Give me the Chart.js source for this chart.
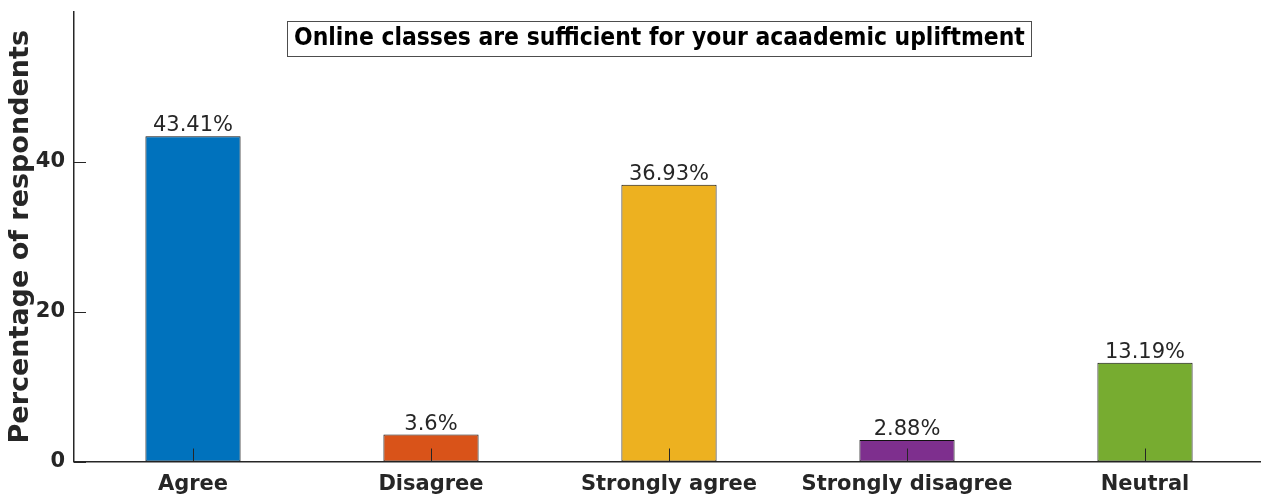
<!DOCTYPE html>
<html>
<head>
<meta charset="utf-8">
<script src="https://cdn.jsdelivr.net/npm/chart.js@4"></script>
<style>
    html, body { margin: 0; padding: 0; background: #fff; overflow: hidden; }
    #wrap { position: relative; width: 1264px; height: 499px; }
</style>
</head>
<body>
<div id="wrap"><canvas id="myChart"></canvas></div>
<script>
// answers and their share of respondents (%)
const categories = ['Agree', 'Disagree', 'Strongly agree', 'Strongly disagree', 'Neutral'];
const percentages = [43.41, 3.6, 36.93, 2.88, 13.19];
const valueLabels = ['43.41%', '3.6%', '36.93%', '2.88%', '13.19%'];
const yTicks = [0, 20, 40];
const chartTitle = 'Online classes are sufficient for your acaademic upliftment';

const barColors = ['#0072BD', '#D95319', '#EDB120', '#7E2F8E', '#77AC30'];
const axisColor = '#262626';

// matlab style ticks pointing into the plot
const innerTicks = {
    id: 'innerTicks',
    afterDatasetsDraw(chart) {
        const ctx = chart.ctx;
        const x = chart.scales.x, y = chart.scales.y;
        ctx.save();
        ctx.strokeStyle = axisColor;
        ctx.lineWidth = 1;
        yTicks.forEach(v => {
            const py = Math.round(y.getPixelForValue(v)) + 0.5;
            ctx.beginPath();
            ctx.moveTo(x.left, py);
            ctx.lineTo(x.left + 12, py);
            ctx.stroke();
        });
        categories.forEach((c, i) => {
            const px = Math.round(x.getPixelForValue(i)) + 0.5;
            ctx.beginPath();
            ctx.moveTo(px, y.bottom);
            ctx.lineTo(px, y.bottom - 13);
            ctx.stroke();
        });
        ctx.restore();
    }
};

const barValues = {
    id: 'barValues',
    afterDatasetsDraw(chart) {
        const ctx = chart.ctx;
        ctx.save();
        ctx.font = '21px "DejaVu Sans"';
        ctx.fillStyle = '#262626';
        ctx.textAlign = 'center';
        ctx.textBaseline = 'alphabetic';
        chart.getDatasetMeta(0).data.forEach((bar, i) => {
            ctx.fillText(valueLabels[i], bar.x, bar.y - 5);
        });
        ctx.restore();
    }
};

const titleBox = {
    id: 'titleBox',
    afterDraw(chart) {
        const ctx = chart.ctx;
        ctx.save();
        ctx.fillStyle = '#fff';
        ctx.fillRect(287, 21, 744, 35);
        ctx.strokeStyle = '#4d4d4d';
        ctx.lineWidth = 1;
        ctx.strokeRect(287.5, 21.5, 744, 35);
        ctx.font = 'bold 24.4px "DejaVu Sans Condensed", "DejaVu Sans"';
        ctx.fillStyle = '#000';
        ctx.textBaseline = 'middle';
        ctx.fillText(chartTitle, 294, 39);
        ctx.restore();
    }
};

const canvas = document.getElementById('myChart').getContext('2d');
const chart = new Chart(canvas, {
    type: 'bar',
    data: {
        labels: categories,
        datasets: [{
            data: percentages,
            backgroundColor: barColors,
            borderColor: '#111',
            borderWidth: 1,
            borderSkipped: false,
            categoryPercentage: 1,
            barPercentage: 0.4
        }]
    },
    options: {
        responsive: true,
        maintainAspectRatio: false,
        animation: false,
        layout: { autoPadding: false, padding: { top: 12, right: 0, left: 0, bottom: 0 } },
        plugins: {
            legend: { display: false },
            tooltip: { enabled: false }
        },
        scales: {
            x: {
                offset: true,
                grid: { display: false, drawTicks: false },
                border: { color: axisColor, width: 1.5 },
                ticks: {
                    color: '#262626',
                    font: { family: 'DejaVu Sans', size: 21, weight: 'bold' },
                    padding: 10,
                    maxRotation: 0,
                    autoSkip: false
                },
                afterFit(scale) { scale.height = 37.5; }
            },
            y: {
                min: 0,
                max: 60,
                grid: { display: false, drawTicks: false },
                border: { color: axisColor, width: 1.5 },
                afterBuildTicks(scale) {
                    scale.ticks = yTicks.map(v => ({ value: v }));
                },
                ticks: {
                    color: '#262626',
                    font: { family: 'DejaVu Sans', size: 21, weight: 'bold' },
                    padding: 9
                },
                title: {
                    display: true,
                    text: 'Percentage of respondents',
                    color: '#262626',
                    font: { family: 'DejaVu Sans', size: 27, weight: 'bold' },
                    padding: { top: 5, bottom: 0 }
                },
                afterFit(scale) {
                    scale.width = 74;
                    scale.paddingTop = 0;
                    scale.paddingBottom = 0;
                }
            }
        }
    },
    plugins: [innerTicks, barValues, titleBox]
});
</script>
</body>
</html>
